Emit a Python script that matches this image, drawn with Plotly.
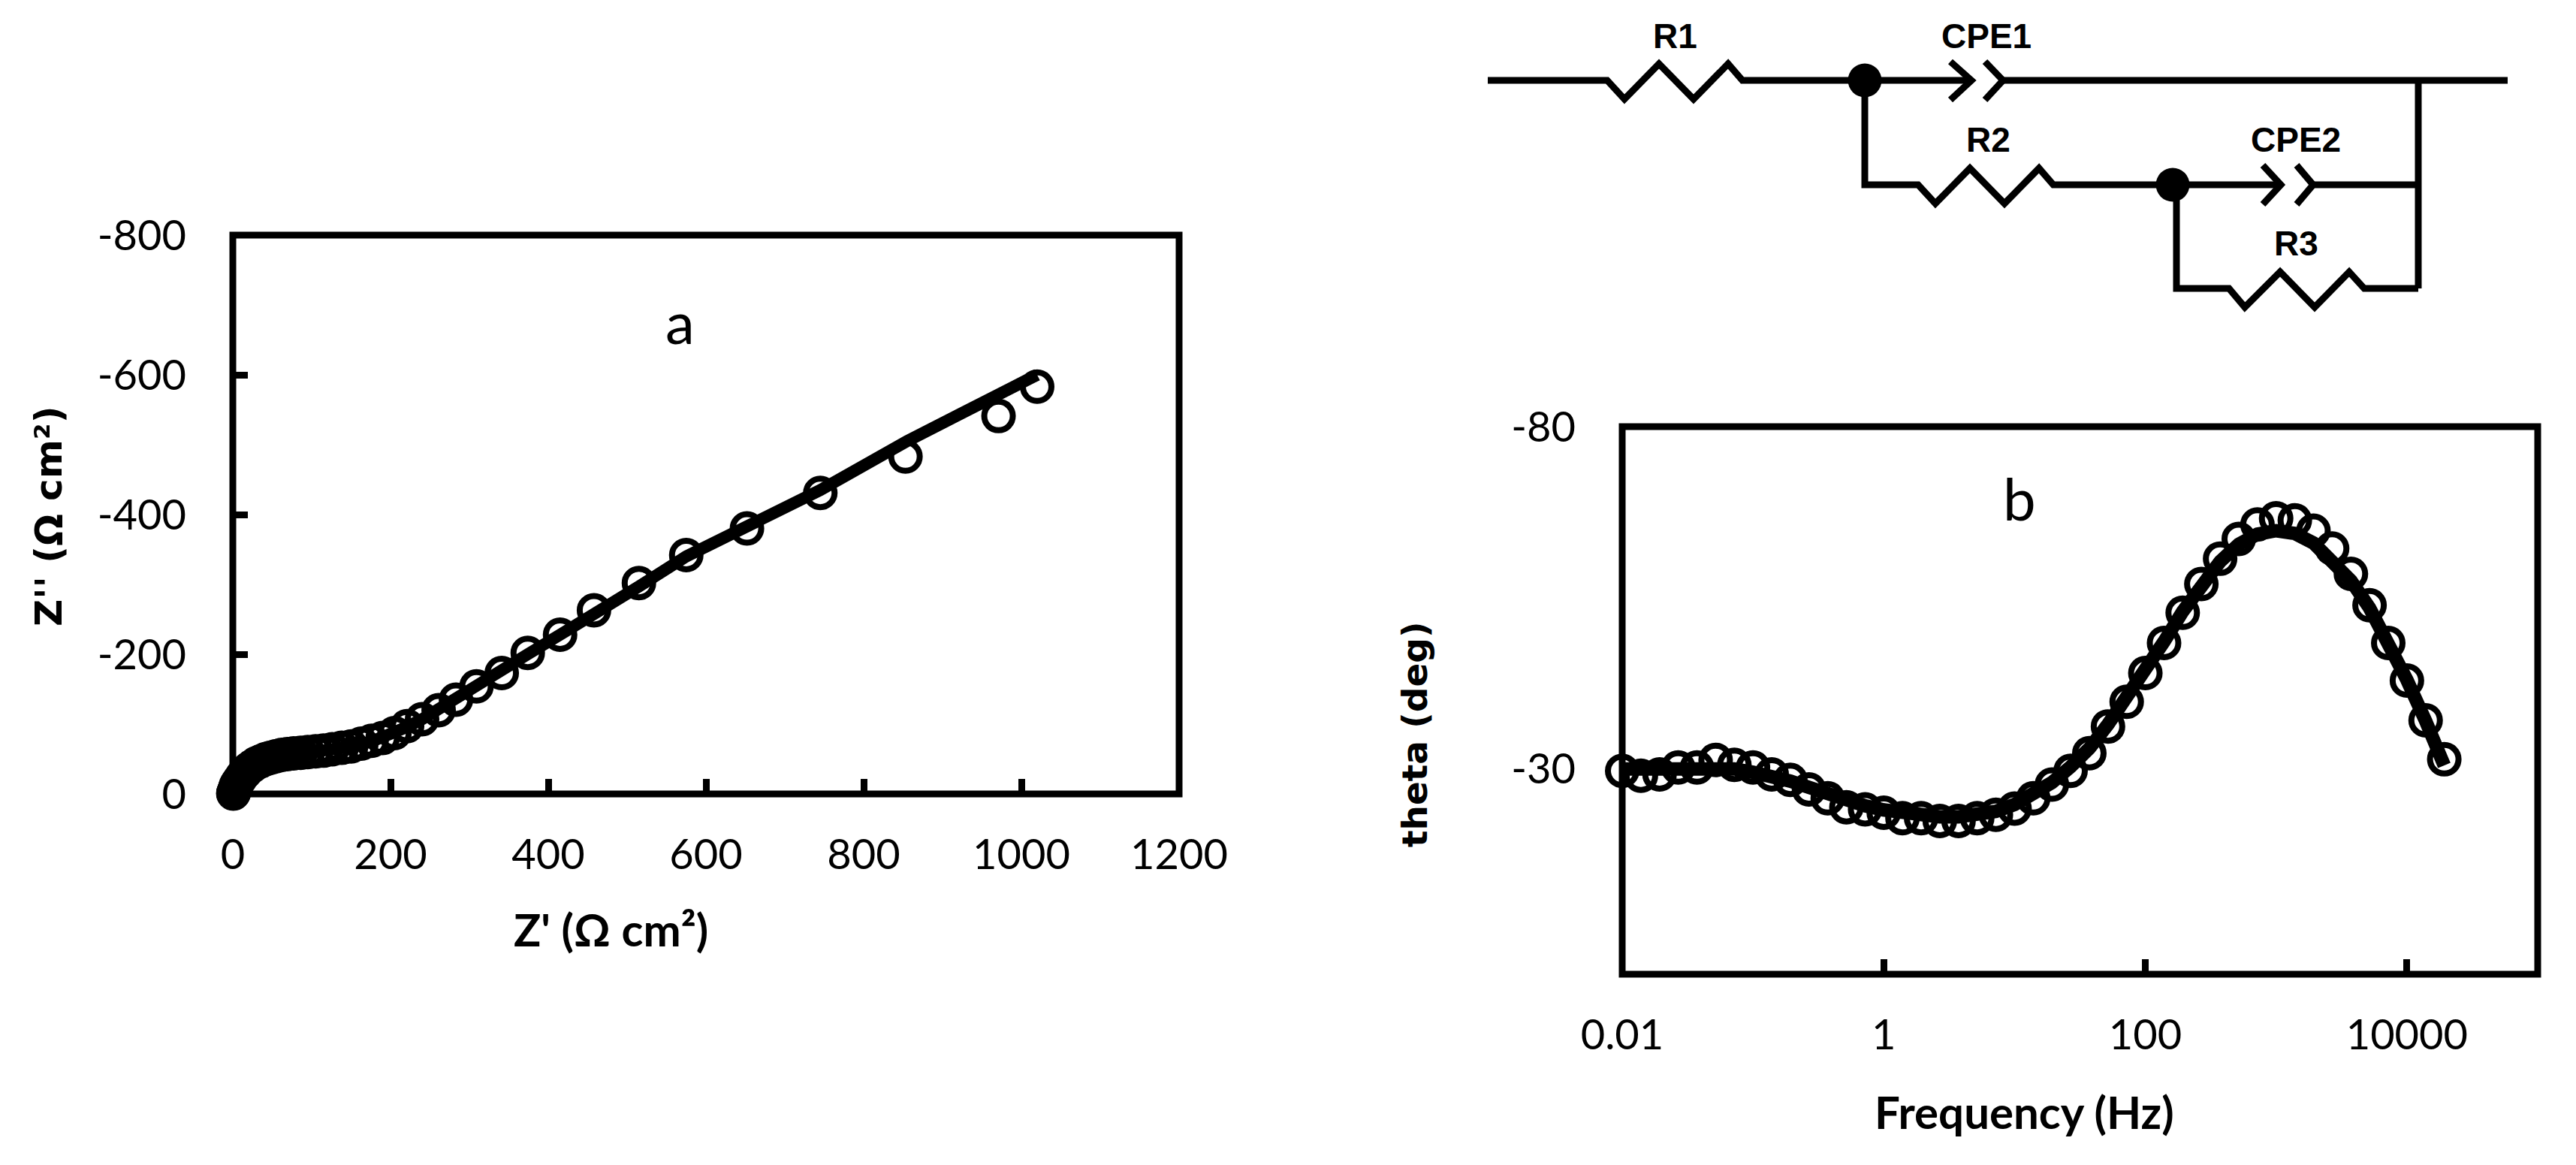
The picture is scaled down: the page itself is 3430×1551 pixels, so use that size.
import plotly.graph_objects as go

W = 3430
H = 1551

# panel a: Nyquist
z_re_meas = [1020, 971, 853, 745, 652, 575, 515, 458, 415, 374, 341, 309, 283, 261, 240, 221, 205,
             190, 176, 163, 150, 138, 126, 115, 105, 95, 86, 77, 69, 62, 55, 48, 42, 36, 30, 25, 20,
             16, 12, 9, 6, 4, 3, 2, 1.5, 1, 0.8, 0.6]
z_im_meas = [-583, -541, -483, -431, -380, -342, -302, -263, -228, -202, -173, -154, -135, -120, -107, -97, -87,
             -80, -76, -72, -68, -66, -64, -62, -61, -60, -59, -58, -57, -56, -54, -52, -50, -47, -44, -40, -36,
             -31, -26, -21, -16, -12, -8, -5, -3, -2, -1, -0.5]
z_re_fit = [1020, 855, 745, 650, 575, 515, 458, 415, 374, 341, 309, 283, 261, 240, 221, 205, 190, 176,
            150, 126, 105, 86, 69, 55, 42, 30, 20, 12, 6, 3, 1, 0]
z_im_fit = [-600, -505, -435, -380, -340, -297, -260, -228, -200, -177, -152, -135, -120, -107, -96, -87, -80, -75,
            -68, -64, -61, -59, -57, -54, -50, -44, -36, -26, -16, -8, -2, 0]
a_xticks = [0, 200, 400, 600, 800, 1000, 1200]
a_yticks = [-800, -600, -400, -200, 0]
a_ylabels = ["-800", "-600", "-400", "-200", "0"]

# panel b: Bode phase
freq = [0.01, 0.0139, 0.0193, 0.0268, 0.0373, 0.0518, 0.072, 0.1, 0.139, 0.193, 0.268, 0.373, 0.518, 0.72, 1,
        1.39, 1.93, 2.68, 3.73, 5.18, 7.2, 10, 13.9, 19.3, 26.8, 37.3, 51.8, 72, 100, 139,
        193, 268, 373, 518, 720, 1000, 1390, 1930, 2680, 3730, 5180, 7200, 10000, 13900, 19300]
theta_meas = [-29.7, -29.0, -29.2, -30.2, -30.2, -31.3, -30.6, -30.2, -29.2, -28.4, -27.0, -25.7, -24.4, -24.1, -23.6,
              -22.8, -22.8, -22.4, -22.4, -22.8, -23.3, -24.2, -25.7, -27.7, -29.7, -32.3, -36.2, -39.8, -44.0, -48.4,
              -52.8, -57.0, -60.7, -63.6, -65.7, -66.6, -66.3, -64.8, -62.2, -58.5, -53.9, -48.4, -42.9, -37.1, -31.4]
theta_fit = [-30, -30, -30, -30.2, -30.3, -30.3, -30, -29.5, -29, -28.2, -27.3, -26.3, -25.4, -24.6, -24,
             -23.5, -23.2, -23, -23, -23.2, -23.8, -24.8, -26.2, -28, -30.3, -33, -36.5, -40.3, -44.3, -48.6,
             -53, -57, -60.3, -62.8, -64.3, -64.8, -64.4, -63, -60.5, -57.5, -53.5, -48.5, -43, -37, -30.5]
b_xticks = [0.01, 1, 100, 10000]
b_xlabels = ["0.01", "1", "100", "10000"]
b_yticks = [-80, -30]
b_ylabels = ["-80", "-30"]

# equivalent circuit, drawn on a hidden axis that runs in picture pixels
wire_x = [1981, 2140, 2163, 2209, 2255, 2301, 2320, 2625, None,
          2597, 2625, 2597, None, 2643, 2667, 2643, None,
          2667, 3339, None, 3220, 3220, None,
          2483, 2483, 2554, 2577, 2623, 2669, 2715, 2734, 3037, None,
          3013, 3037, 3013, None, 3058, 3080, 3058, None,
          3080, 3220, None,
          2898, 2898, 2968, 2989, 3036, 3082, 3128, 3148, 3220]
wire_y = [107, 107, 132, 85, 132, 85, 107, 107, None,
          82, 107, 133, None, 82, 107, 133, None,
          107, 107, None, 107, 384, None,
          107, 246, 246, 271, 224, 271, 224, 246, 246, None,
          220, 246, 272, None, 220, 246, 272, None,
          246, 246, None,
          246, 384, 384, 409, 362, 409, 362, 384, 384]
node_x = [2483, 2893]
node_y = [107, 246]
circuit_labels = ["R1", "CPE1", "R2", "CPE2", "R3"]
label_x = [2230, 2645, 2647, 3057, 3057]
label_y = [48, 48, 186, 186, 324]

INK = "#000000"
TICKFONT = "Lato"


def axis_common():
    # frame comes from a rect on the axis domain, plotly's own axis line sits outside the domain
    return dict(showgrid=False, zeroline=False, showline=False, automargin=False,
                ticks="inside", ticklen=20, tickwidth=9, tickcolor=INK,
                tickfont=dict(family=TICKFONT, size=56, color=INK))


fig = go.Figure()

fig.add_trace(go.Scatter(x=z_re_meas, y=z_im_meas, mode="markers", xaxis="x", yaxis="y", cliponaxis=False,
                         marker=dict(symbol="circle-open", size=38, color=INK, line=dict(width=8, color=INK))))
fig.add_trace(go.Scatter(x=z_re_fit, y=z_im_fit, mode="lines", xaxis="x", yaxis="y", cliponaxis=False,
                         line=dict(color=INK, width=16)))
fig.add_trace(go.Scatter(x=freq, y=theta_meas, mode="markers", xaxis="x2", yaxis="y2", cliponaxis=False,
                         marker=dict(symbol="circle-open", size=38, color=INK, line=dict(width=8, color=INK))))
fig.add_trace(go.Scatter(x=freq, y=theta_fit, mode="lines", xaxis="x2", yaxis="y2", cliponaxis=False,
                         line=dict(color=INK, width=18)))
fig.add_trace(go.Scatter(x=wire_x, y=wire_y, mode="lines", xaxis="x3", yaxis="y3", connectgaps=False,
                         line=dict(color=INK, width=9)))
fig.add_trace(go.Scatter(x=node_x, y=node_y, mode="markers", xaxis="x3", yaxis="y3",
                         marker=dict(symbol="circle", size=45, color=INK)))

annos = []
for t, x, y in zip(circuit_labels, label_x, label_y):
    annos.append(dict(text="<b>%s</b>" % t, x=x, y=y, font=dict(family="Liberation Sans", size=46, color=INK)))
annos += [
    dict(text="a", x=905, y=428, font=dict(family=TICKFONT, size=78, color=INK)),
    dict(text="b", x=2689, y=663, font=dict(family=TICKFONT, size=78, color=INK)),
    dict(text="<b>Z' (Ω cm²)</b>", x=813, y=1237, font=dict(family=TICKFONT, size=60, color=INK)),
    dict(text="<b>Z'' (Ω cm²)</b>", x=65, y=687, textangle=-90, font=dict(family="DejaVu Sans", size=50, color=INK)),
    dict(text="<b>Frequency (Hz)</b>", x=2695, y=1480, font=dict(family=TICKFONT, size=60, color=INK)),
    dict(text="<b>theta (deg)</b>", x=1883, y=978, textangle=-90, font=dict(family="DejaVu Sans", size=47, color=INK)),
]
for a in annos:
    a.update(xref="x3", yref="y3", showarrow=False, xanchor="center", yanchor="middle")

frames = []
for xa, ya in [("x", "y"), ("x2", "y2")]:
    frames.append(dict(type="rect", xref=xa + " domain", yref=ya + " domain", x0=0, x1=1, y0=0, y1=1,
                       line=dict(color=INK, width=9), layer="above"))

fig.update_layout(
    width=W, height=H, margin=dict(l=0, r=0, t=0, b=0, pad=0), showlegend=False,
    paper_bgcolor="white", plot_bgcolor="rgba(0,0,0,0)",
    annotations=annos, shapes=frames,
    xaxis=dict(domain=[310 / W, 1570 / W], range=[0, 1200], tickvals=a_xticks, anchor="y",
               ticklabelstandoff=43, **axis_common()),
    yaxis=dict(domain=[1 - 1057 / H, 1 - 313 / H], range=[0, -800], tickvals=a_yticks, ticktext=a_ylabels, anchor="x",
               ticklabelstandoff=61, **axis_common()),
    xaxis2=dict(domain=[2160 / W, 3379 / W], type="log", range=[-2, 5], tickvals=b_xticks, ticktext=b_xlabels,
                anchor="y2", ticklabelstandoff=43, **axis_common()),
    yaxis2=dict(domain=[1 - 1297 / H, 1 - 568 / H], range=[0, -80], tickvals=b_yticks, ticktext=b_ylabels, anchor="x2",
                ticklabelstandoff=61, **axis_common()),
    xaxis3=dict(domain=[0, 1], range=[0, W], visible=False, anchor="y3", automargin=False),
    yaxis3=dict(domain=[0, 1], range=[H, 0], visible=False, anchor="x3", automargin=False),
)

# the page's default body margin would push the figure 8px off
fig.write_html("out.html", config=dict(displayModeBar=False), post_script="document.body.style.margin = '0';")
